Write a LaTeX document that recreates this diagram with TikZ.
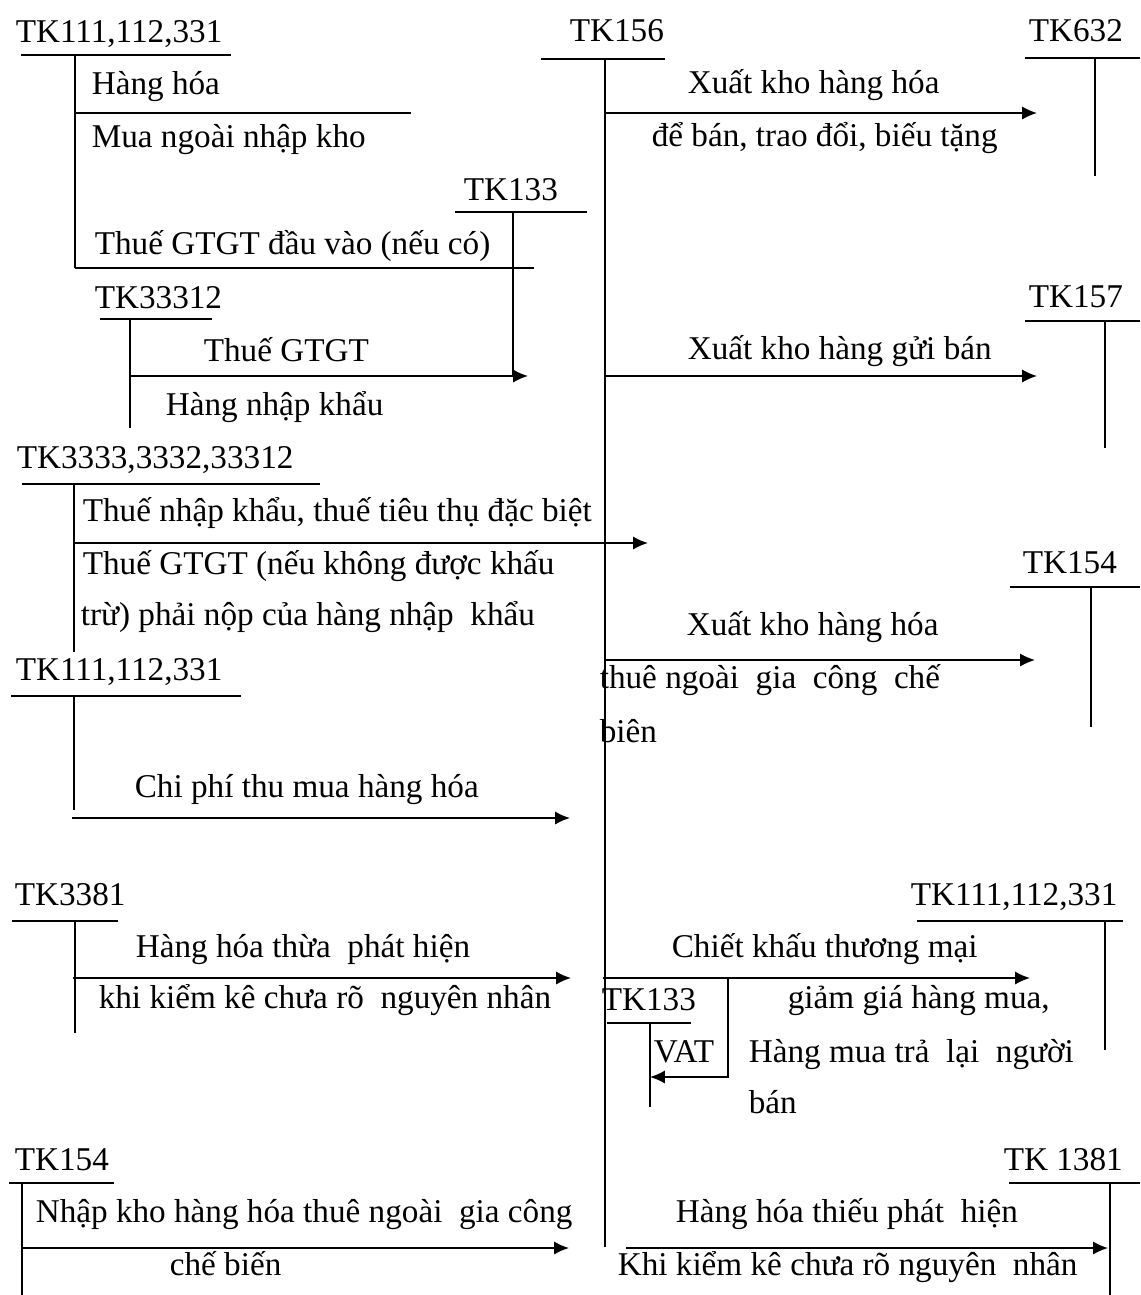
\documentclass[tikz,border=0pt]{standalone}
\usepackage{fontspec}
\setmainfont{Liberation Serif}
\usetikzlibrary{arrows.meta}

\begin{document}
\begin{tikzpicture}[x=0.02cm,y=-0.02cm,line width=0.9pt,
    >={Latex[length=8.5pt,width=7.5pt]},
    chu/.style={anchor=base west,inner sep=0pt,font=\fontsize{18.9}{22}\selectfont}]
    \useasboundingbox (0,0) rectangle (1140,1295);

    % các tài khoản chữ T: x đứng / y ngang / từ / đến / đáy
    \foreach \x/\y/\a/\b/\d in {75/55/21/231/268, 513/212/455/587/376, 130/319/100/212/428,
        605/59/541/665/1247, 1095/58/1025/1140/176, 1105/321/1025/1140/448,
        74/484/22/320/652, 74/696/11/241/810, 1091/587/1010/1140/727,
        75/921/12/118/1033, 1105/921/917/1123/1050, 650/1023/607/691/1107,
        22/1183/9/114/1295, 1110/1183/1009/1140/1295} {
        \draw (\a,\y) -- (\b,\y);
        \draw (\x,\y) -- (\x,\d);
    }

    % tên tài khoản
    \node[chu] (tk111a) at (15,42) {TK111,112,331};
    \node[chu] (tk133a) at (463,200) {TK133};
    \node[chu] (tk33312) at (94,308) {TK33312};
    \node[chu] (tk156) at (569,41) {TK156};
    \node[chu] (tk632) at (1028,41) {TK632};
    \node[chu] (tk157) at (1028,307) {TK157};
    \node[chu] (tk3333) at (16,468) {TK3333,3332,33312};
    \node[chu] (tk111b) at (15,680) {TK111,112,331};
    \node[chu] (tk154b) at (1022,573) {TK154};
    \node[chu] (tk3381) at (14,905) {TK3381};
    \node[chu] (tk111c) at (910,905) {TK111,112,331};
    \node[chu] (tk133b) at (601,1010) {TK133};
    \node[chu] (tk154a) at (14,1170) {TK154};
    \node[chu] (tk1381) at (1003,1170) {TK 1381};

    % đường không mũi tên
    \coordinate (hh1) at (75,113);
    \coordinate (hh2) at (411,113);
    \draw (hh1) -- (hh2);
    \coordinate (vat1) at (75,268);
    \coordinate (vat2) at (534,268);
    \draw (vat1) -- (vat2);

    % mũi tên
    \coordinate (nk1) at (130,376);  \coordinate (nk2) at (528,376);
    \coordinate (x1a) at (606,113);  \coordinate (x1b) at (1037,113);
    \coordinate (x2a) at (606,376);  \coordinate (x2b) at (1037,376);
    \coordinate (t1a) at (74,543);   \coordinate (t1b) at (648,543);
    \coordinate (x3a) at (606,660);  \coordinate (x3b) at (1035,660);
    \coordinate (cp1) at (72,818);   \coordinate (cp2) at (570,818);
    \coordinate (th1) at (73,978);   \coordinate (th2) at (571,978);
    \coordinate (ck1) at (603,978);  \coordinate (ck2) at (1030,978);
    \coordinate (ck3) at (728,978);  \coordinate (ck4) at (728,1077);
    \coordinate (ck5) at (650,1077);
    \coordinate (gc1) at (22,1248);  \coordinate (gc2) at (569,1248);
    \coordinate (tu1) at (626,1248); \coordinate (tu2) at (1108,1248);
    \draw[->] (nk1) -- (nk2);
    \draw[->] (x1a) -- (x1b);
    \draw[->] (x2a) -- (x2b);
    \draw[->] (t1a) -- (t1b);
    \draw[->] (x3a) -- (x3b);
    \draw[->] (cp1) -- (cp2);
    \draw[->] (th1) -- (th2);
    \draw[->] (ck1) -- (ck2);
    \draw[->] (ck3) -- (ck4) -- (ck5);
    \draw[->] (gc1) -- (gc2);
    \draw[->] (tu1) -- (tu2);

    % nội dung
    \node[chu] (n1) at (91,94) {Hàng hóa};
    \node[chu] (n2) at (91,147) {Mua ngoài nhập kho};
    \node[chu] (n3) at (94,254) {Thuế GTGT đầu vào (nếu có)};
    \node[chu] (n4) at (203,361) {Thuế GTGT};
    \node[chu] (n5) at (165,415) {Hàng nhập khẩu};
    \node[chu] (n6) at (687,93) {Xuất kho hàng hóa};
    \node[chu] (n7) at (651,146) {để bán, trao đổi, biếu tặng};
    \node[chu] (n8) at (687,359) {Xuất kho hàng gửi bán};
    \node[chu] (n9) at (82,521) {Thuế nhập khẩu, thuế tiêu thụ đặc biệt};
    \node[chu] (n10) at (82,574) {Thuế GTGT (nếu không được khấu};
    \node[chu] (n11) at (80,625) {trừ) phải nộp của hàng nhập\ \ khẩu};
    \node[chu] (n12) at (686,635) {Xuất kho hàng hóa};
    \node[chu] (n13) at (599,688) {thuê ngoài\ \ gia\ \ công\ \ chế};
    \node[chu] (n14) at (599,742) {biên};
    \node[chu] (n15) at (134,797) {Chi phí thu mua hàng hóa};
    \node[chu] (n16) at (135,957) {Hàng hóa thừa\ \ phát hiện};
    \node[chu] (n17) at (98,1008) {khi kiểm kê chưa rõ\ \ nguyên nhân};
    \node[chu] (n18) at (671,957) {Chiết khấu thương mại};
    \node[chu] (n19) at (787,1008) {giảm giá hàng mua,};
    \node[chu] (n20) at (653,1062) {VAT};
    \node[chu] (n21) at (748,1062) {Hàng mua trả\ \ lại\ \ người};
    \node[chu] (n22) at (748,1113) {bán};
    \node[chu] (n23) at (35,1222) {Nhập kho hàng hóa thuê ngoài\ \ gia công};
    \node[chu] (n24) at (169,1275) {chế biến};
    \node[chu] (n25) at (675,1222) {Hàng hóa thiếu phát\ \ hiện};
    \node[chu] (n26) at (617,1275) {Khi kiểm kê chưa rõ nguyên\ \ nhân};
\end{tikzpicture}
\end{document}
